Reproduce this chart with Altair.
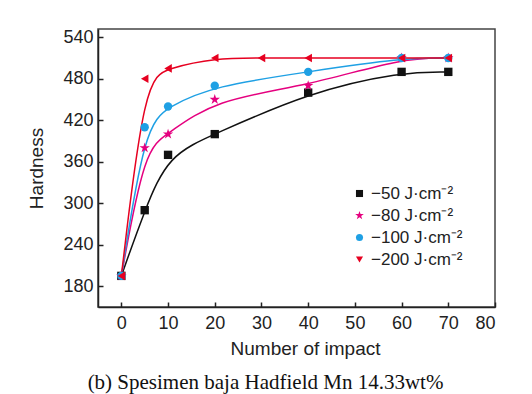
import altair as alt
import pandas as pd

series = ["−50 J·cm⁻²", "−80 J·cm⁻²", "−100 J·cm⁻²", "−200 J·cm⁻²"]
x_50 = [0, 5, 10, 20, 40, 60, 70]
y_50 = [195, 290, 370, 400, 460, 490, 490]
x_80 = [0, 5, 10, 20, 40, 60, 70]
y_80 = [195, 380, 400, 450, 470, 510, 510]
x_100 = [0, 5, 10, 20, 40, 60, 70]
y_100 = [195, 410, 440, 470, 490, 510, 510]
x_200 = [0, 5, 10, 20, 30, 40, 60, 70]
y_200 = [195, 480, 495, 510, 510, 510, 510, 510]

colors = ["#111111", "#e5007f", "#1fa0e4", "#e60020"]
STAR = "M0,-1.3L0.292,-0.402L1.236,-0.402L0.472,0.153L0.764,1.052L0,0.497L-0.764,1.052L-0.472,0.153L-1.236,-0.402L-0.292,-0.402Z"
legend_shapes = ["square", STAR, "circle", "triangle-down"]

rows = []
for s, xs, ys in zip(series, [x_50, x_80, x_100, x_200], [y_50, y_80, y_100, y_200]):
    for xv, yv in zip(xs, ys):
        rows.append({"series": s, "impact": xv, "hardness": yv, "order": series.index(s)})
df = pd.DataFrame(rows)

xenc = alt.X("impact:Q", scale=alt.Scale(domain=[-5, 80], nice=False, zero=False),
             axis=alt.Axis(values=[0, 10, 20, 30, 40, 50, 60, 70, 80], title="Number of impact",
                           tickSize=alt.ExprRef("-5"), labelPadding=12, titlePadding=7,
                           titleX=207, grid=False))
yenc = alt.Y("hardness:Q", scale=alt.Scale(domain=[150, 552], nice=False, zero=False),
             axis=alt.Axis(values=[180, 240, 300, 360, 420, 480, 540], title="Hardness",
                           tickSize=alt.ExprRef("-5"), labelPadding=10, titlePadding=16,
                           grid=False))

legend = alt.Legend(title=None, orient="none", legendX=253, legendY=156,
                    labelFont="Liberation Sans", labelFontSize=17,
                    labelColor="#222", symbolSize=50, rowPadding=4,
                    symbolOpacity=1, labelOffset=3, symbolStrokeWidth=0)
cenc = alt.Color("series:N", scale=alt.Scale(domain=series, range=colors), sort=series,
                 legend=legend)

lines = alt.Chart(df).mark_line(interpolate="basis", strokeWidth=1.5).encode(
    x=xenc, y=yenc, color=cenc, detail="series:N", order="order:Q"
)

points = alt.Chart(df).transform_filter(alt.datum.series != series[3]).mark_point(
    filled=True, opacity=1, size=70
).encode(
    x=xenc, y=yenc, color=cenc,
    shape=alt.Shape("series:N", scale=alt.Scale(domain=series, range=legend_shapes),
                    sort=series, legend=legend),
    order="order:Q",
)

red_points = alt.Chart(df).transform_filter(alt.datum.series == series[3]).mark_point(
    filled=True, opacity=1, size=75, shape="triangle-left"
).encode(x=xenc, y=yenc, color=alt.value(colors[3]))

chart = alt.layer(lines, points, red_points).properties(
    width=397, height=278,
    background="white",
    autosize=alt.AutoSizeParams(type="none"),
    padding={"left": 98, "top": 29, "right": 37, "bottom": 87},
    title=alt.Title("(b) Spesimen baja Hadfield Mn 14.33wt%", orient="bottom", anchor="middle",
                    font="Liberation Serif", fontSize=21, fontWeight="normal", color="#111",
                    offset=14, dx=-31),
).configure_view(
    stroke="#444", strokeWidth=1.5
).configure_axis(
    labelFont="Liberation Sans", titleFont="Liberation Sans", labelFontSize=18, titleFontSize=19,
    titleFontWeight="normal", labelColor="#222", titleColor="#222",
    domainColor="#222", domainWidth=1.5, tickColor="#222", tickWidth=1.5,
)

chart.save("out.html", embed_options={"renderer": "svg", "actions": False})
